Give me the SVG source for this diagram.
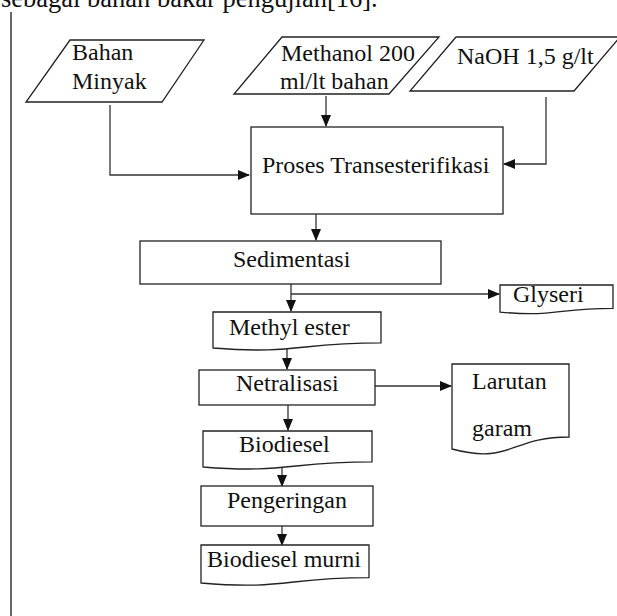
<svg xmlns="http://www.w3.org/2000/svg" width="617" height="616" viewBox="0 0 617 616">
<style>
text{font-family:"Liberation Serif","Times New Roman",serif;font-size:24px;fill:#111}
.shape{fill:#fff;stroke:#222;stroke-width:1.3}
.conn{fill:none;stroke:#333;stroke-width:1.3}
</style>
<defs>
<marker id="arr" markerUnits="userSpaceOnUse" markerWidth="12" markerHeight="10" refX="11" refY="5" orient="auto">
<path d="M0,0 L12,5 L0,10 Z" fill="#111"/>
</marker>
</defs>
<rect width="617" height="616" fill="#fff"/>
<text x="1" y="7" style="font-size:26.5px">sebagai bahan bakar pengujian[16].</text>
<line x1="11" y1="12" x2="11" y2="616" stroke="#333" stroke-width="1.5"/>

<g id="connectors">
<path class="conn" d="M110,105 V175 H249" marker-end="url(#arr)"/>
<path class="conn" d="M326,96 V126" marker-end="url(#arr)"/>
<path class="conn" d="M546,97 V164 H504" marker-end="url(#arr)"/>
<path class="conn" d="M316,214 V240" marker-end="url(#arr)"/>
<path class="conn" d="M291,284 V311" marker-end="url(#arr)"/>
<path class="conn" d="M291,294 H499" marker-end="url(#arr)"/>
<path class="conn" d="M287,345 V369" marker-end="url(#arr)"/>
<path class="conn" d="M375,386 H451" marker-end="url(#arr)"/>
<path class="conn" d="M288,405 V430" marker-end="url(#arr)"/>
<path class="conn" d="M282,465 V486" marker-end="url(#arr)"/>
<path class="conn" d="M282,526 V545" marker-end="url(#arr)"/>
</g>

<g id="bahan-minyak">
<polygon class="shape" points="70,40 204,40 162,102 26,102"/>
<text x="72" y="60">Bahan</text>
<text x="72" y="89">Minyak</text>
</g>
<g id="methanol">
<polygon class="shape" points="282,37 439,37 389,94 234,94"/>
<text x="281" y="61">Methanol 200</text>
<text x="280" y="89">ml/lt bahan</text>
</g>
<g id="naoh">
<polygon class="shape" points="456,37 620,37 574,91 410,91"/>
<text x="457" y="64">NaOH 1,5 g/lt</text>
</g>
<g id="proses">
<rect class="shape" x="251" y="127" width="252" height="87"/>
<text x="262" y="173">Proses Transesterifikasi</text>
</g>
<g id="sedimentasi">
<rect class="shape" x="140" y="241" width="301" height="43"/>
<text x="233" y="267">Sedimentasi</text>
</g>
<g id="glyseri">
<path class="shape" d="M500,285 H613 V308.3 C556.5,308.3 556.5,317.1 500,312.1 Z"/>
<text x="513" y="302">Glyseri</text>
</g>
<g id="methyl-ester">
<path class="shape" d="M213,312 H381 V342.9 C297,342.9 297,354.6 213,348 Z"/>
<text x="229" y="335">Methyl ester</text>
</g>
<g id="netralisasi">
<rect class="shape" x="199" y="370" width="176" height="35"/>
<text x="236" y="391">Netralisasi</text>
</g>
<g id="larutan-garam">
<path class="shape" d="M452,364 H569 V437 C510.5,437 510.5,464.7 452,449 Z"/>
<text x="472" y="389">Larutan</text>
<text x="472" y="436">garam</text>
</g>
<g id="biodiesel">
<path class="shape" d="M203,431 H372 V461.9 C287.5,461.9 287.5,473.6 203,467 Z"/>
<text x="239" y="452">Biodiesel</text>
</g>
<g id="pengeringan">
<rect class="shape" x="201" y="486" width="172" height="40"/>
<text x="227" y="508">Pengeringan</text>
</g>
<g id="biodiesel-murni">
<path class="shape" d="M201,545 H369 V577.6 C285,577.6 285,590.1 201,583 Z"/>
<text x="207" y="567">Biodiesel murni</text>
</g>
</svg>
